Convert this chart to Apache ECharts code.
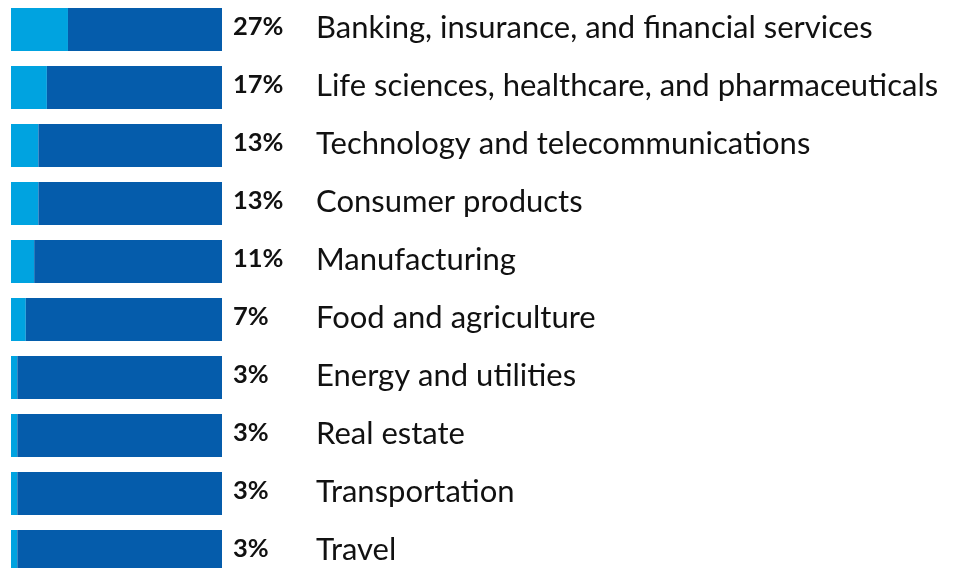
<!DOCTYPE html>
<html>
<head>
<meta charset="utf-8">
<script src="https://cdn.jsdelivr.net/npm/echarts@6/dist/echarts.min.js"></script>
<style>
  html, body { margin: 0; padding: 0; background: #fff; }
  #chart { width: 956px; height: 568px; }
</style>
</head>
<body>
<div id="chart"></div>
<script>
// Industry breakdown: share of respondents per sector
const categories = [
  'Banking, insurance, and financial services',
  'Life sciences, healthcare, and pharmaceuticals',
  'Technology and telecommunications',
  'Consumer products',
  'Manufacturing',
  'Food and agriculture',
  'Energy and utilities',
  'Real estate',
  'Transportation',
  'Travel'
];
const shares = [27, 17, 13, 13, 11, 7, 3, 3, 3, 3];
const remainder = shares.map(v => 100 - v);

const chart = echarts.init(document.getElementById('chart'), null, { renderer: 'canvas' });

chart.setOption({
  animation: false,
  // the last row runs past the bottom edge of the canvas
  grid: { left: 11, top: 0.5, width: 211, height: 580, outerBoundsMode: 'none', containLabel: false },
  xAxis: { type: 'value', min: 0, max: 100, show: false },
  yAxis: {
    type: 'category',
    data: categories,
    inverse: true,
    show: false
  },
  series: [
    {
      type: 'bar',
      stack: 'total',
      data: shares,
      barWidth: 43,
      itemStyle: { color: '#00a3e0' },
      silent: true
    },
    {
      type: 'bar',
      stack: 'total',
      data: remainder,
      barWidth: 43,
      itemStyle: { color: '#055cab' },
      silent: true,
      label: {
        show: true,
        position: 'right',
        distance: 11,
        offset: [0, -2],
        formatter: p => '{p|' + shares[p.dataIndex] + '%}{c|' + categories[p.dataIndex] + '}',
        rich: {
          p: {
            width: 83,
            fontFamily: 'Lato',
            fontWeight: 'bold',
            fontSize: 25.5,
            color: '#111',
            padding: [0, 0, 1, 0]
          },
          c: {
            fontFamily: 'Lato',
            fontSize: 31,
            color: '#111'
          }
        }
      }
    }
  ]
});
</script>
</body>
</html>
